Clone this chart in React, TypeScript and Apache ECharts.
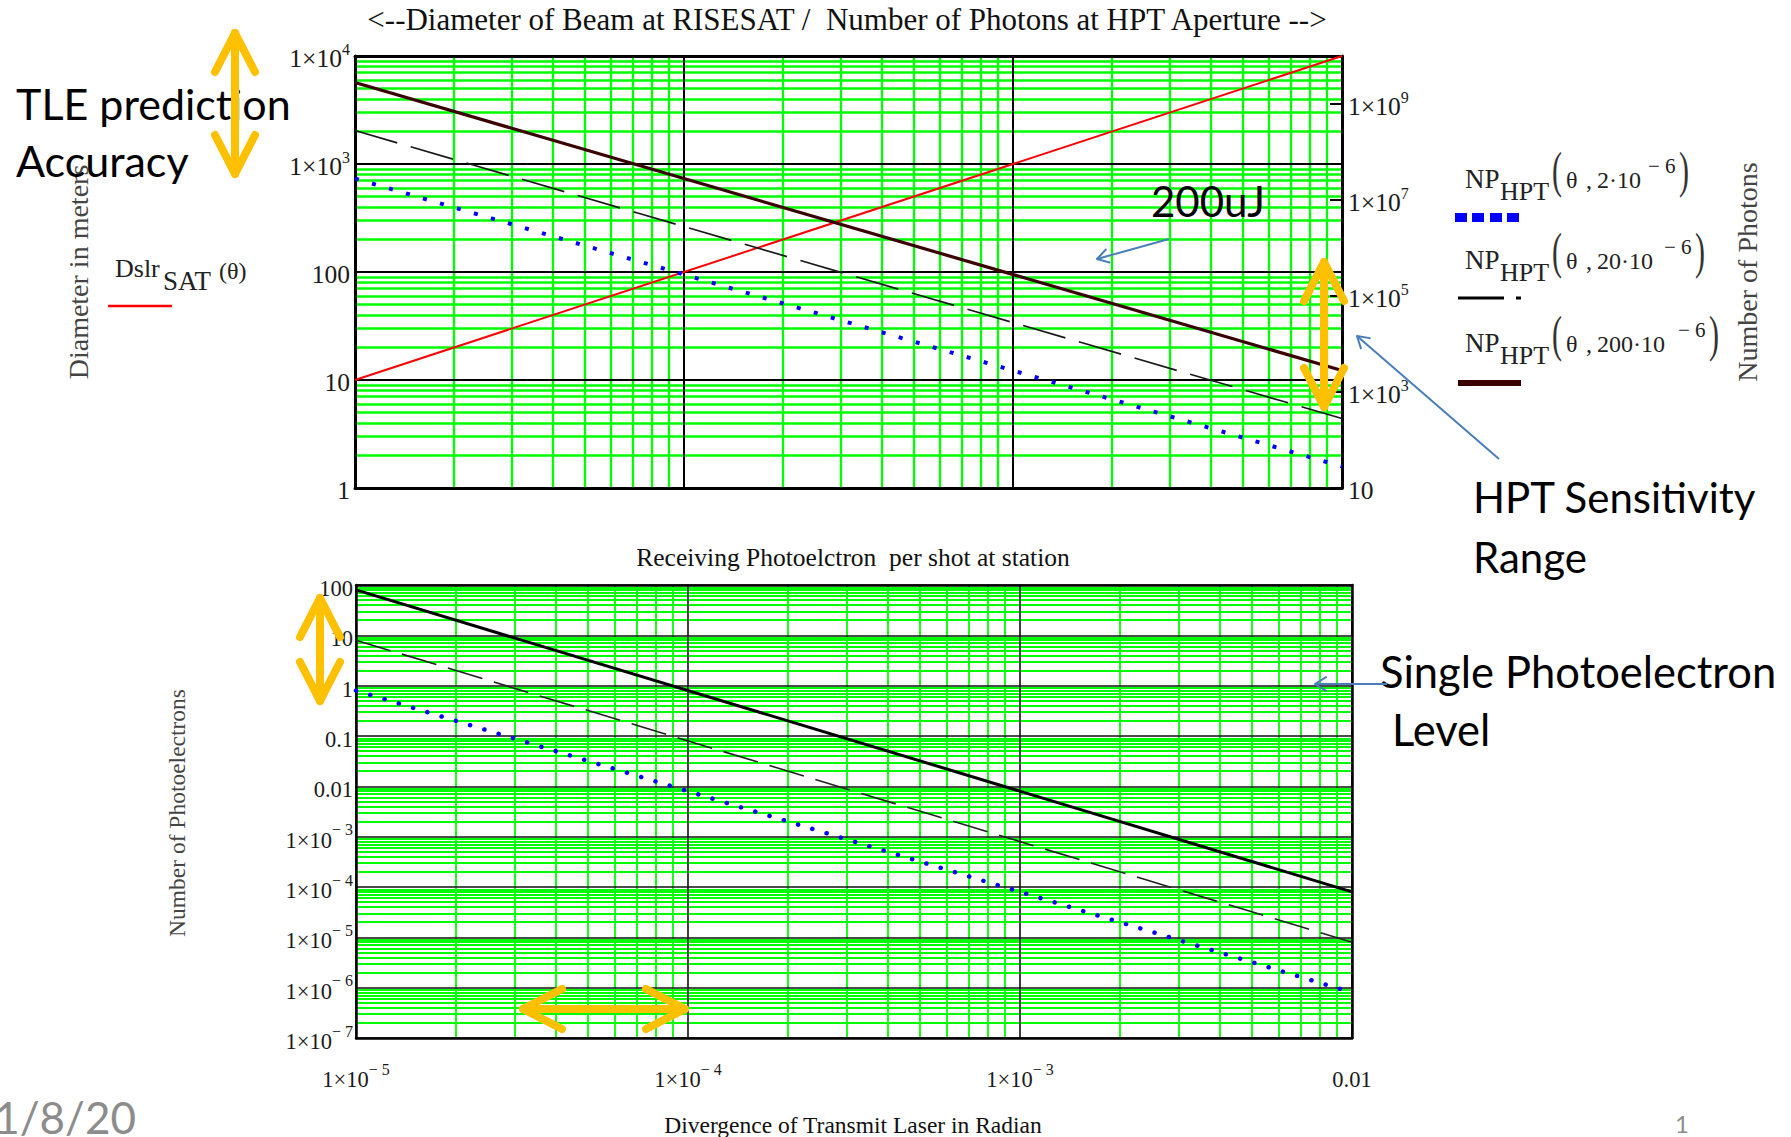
import React, { useEffect, useRef } from 'react';
import * as echarts from 'echarts';

// ---------------- data ----------------
// divergence of transmit laser (rad) at the two ends of the straight log-log lines
const thetaEnds = [1e-5, 1e-2];
// top chart: beam diameter at RISESAT (left axis, m)
const beamDiameterSat = [10, 10000];
// top chart: number of photons at HPT aperture (right axis)
const photonsHpt2uJ = [2.8e7, 28];
const photonsHpt20uJ = [2.8e8, 280];
const photonsHpt200uJ = [2.8e9, 2800];
// bottom chart: receiving photoelectrons per shot at station
const photoelectrons2uJ = [0.8, 8e-7];
const photoelectrons20uJ = [8, 8e-6];
const photoelectrons200uJ = [80, 8e-5];

// ---------------- axis / grid definitions ----------------
const minorMantissas = [2, 3, 4, 5, 6, 7, 8, 9];
const thetaDecades = [-5, -4, -3];
const diameterDecades = [0, 1, 2, 3];
const photoelectronDecades = [-7, -6, -5, -4, -3, -2, -1, 0, 1];
const photonLabelValues = [10, 1e3, 1e5, 1e7, 1e9];
const photonTickValues = [1e3, 1e5, 1e7, 1e9];

const SERIF = '"Liberation Serif", "Times New Roman", serif';
const SANS = 'Lato, "Open Sans", "Noto Sans", sans-serif';
const LABEL = '#1a1a1a';
const GREEN = '#00ff00';
const ORANGE = '#FFC000';
const BLUE_ARROW = '#4a7ebb';

const pairs = (ys: number[]) => thetaEnds.map((t, i) => [t, ys[i]]);
const minorValues = (decs: number[]) =>
  decs.flatMap((e) => minorMantissas.map((m) => m * Math.pow(10, e)));

const sciLabel = (v: number) => {
  const e = Math.round(Math.log10(v));
  if (e >= -2 && e <= 2) {
    const s = e >= 0 ? String(Math.round(Math.pow(10, e))) : '0.' + '0'.repeat(-e - 1) + '1';
    return `{m|${s}}`;
  }
  return `{m|1×10}{s|${e < 0 ? '− ' : ''}${Math.abs(e)}}`;
};

const richLabels = (fs: number, sfs: number) => ({
  m: { fontFamily: SERIF, fontSize: fs, lineHeight: 30, verticalAlign: 'bottom', color: LABEL },
  s: { fontFamily: SERIF, fontSize: sfs, lineHeight: 12, verticalAlign: 'top', color: LABEL },
});

// ---------------- graphic helpers (annotations) ----------------
const txt = (
  text: string,
  x: number,
  baseline: number,
  fs: number,
  family: string,
  fill: string,
  align: string = 'left',
  extra: any = {}
) => ({
  type: 'text',
  x,
  y: baseline - 0.35 * fs,
  z: 100,
  silent: true,
  ...extra,
  style: { text, fontSize: fs, fontFamily: family, fill, textAlign: align, textVerticalAlign: 'middle' },
});

const rotTxt = (text: string, x: number, y: number, fs: number, fill: string) => ({
  type: 'text',
  x,
  y,
  rotation: Math.PI / 2,
  z: 100,
  silent: true,
  style: { text, fontSize: fs, fontFamily: SERIF, fill, textAlign: 'center', textVerticalAlign: 'middle' },
});

const seg = (x1: number, y1: number, x2: number, y2: number, stroke: string, lw: number, cap = 'round') => ({
  type: 'line',
  z: 100,
  silent: true,
  shape: { x1, y1, x2, y2 },
  style: { stroke, lineWidth: lw, lineCap: cap },
});

const chevron = (pts: number[][], stroke: string, lw: number) => ({
  type: 'polyline',
  z: 100,
  silent: true,
  shape: { points: pts },
  style: { stroke, lineWidth: lw, lineCap: 'round', lineJoin: 'round', fill: 'none' },
});

const orangeV = (x: number, y1: number, y2: number) => [
  seg(x, y1 + 3, x, y2 - 3, ORANGE, 8),
  chevron([[x - 20, y1 + 42], [x, y1 + 3], [x + 20, y1 + 42]], ORANGE, 8),
  chevron([[x - 20, y2 - 42], [x, y2 - 3], [x + 20, y2 - 42]], ORANGE, 8),
];
const orangeH = (y: number, x1: number, x2: number) => [
  seg(x1 + 3, y, x2 - 3, y, ORANGE, 8),
  chevron([[x1 + 42, y - 20], [x1 + 3, y], [x1 + 42, y + 20]], ORANGE, 8),
  chevron([[x2 - 42, y - 20], [x2 - 3, y], [x2 - 42, y + 20]], ORANGE, 8),
];
const blueArrow = (x1: number, y1: number, x2: number, y2: number) => {
  const a = Math.atan2(y2 - y1, x2 - x1);
  const L = 13;
  const p1 = [x2 - L * Math.cos(a - 0.55), y2 - L * Math.sin(a - 0.55)];
  const p2 = [x2 - L * Math.cos(a + 0.55), y2 - L * Math.sin(a + 0.55)];
  return [seg(x1, y1, x2, y2, BLUE_ARROW, 2, 'butt'), chevron([p1, [x2, y2], p2], BLUE_ARROW, 2)];
};

// legend entry NP_HPT(θ, k·10^-6)
const npLegend = (b: number, num: string, numEnd: number) => [
  txt('NP', 1465, b, 27, SERIF, '#222'),
  txt('HPT', 1500, b + 13, 26, SERIF, '#222'),
  txt('(', 1552, b, 50, SERIF, '#333', 'left', { scaleX: 0.6 }),
  txt('θ', 1566, b, 24, SERIF, '#222'),
  txt(',', 1586, b, 24, SERIF, '#222'),
  txt(num, 1597, b, 24, SERIF, '#222'),
  txt('− 6', numEnd + 1, b - 15, 21, SERIF, '#222'),
  txt(')', numEnd + 32, b, 50, SERIF, '#333', 'left', { scaleX: 0.6 }),
];

const graphics: any[] = [
  // Mathcad titles
  txt('<--Diameter of Beam at RISESAT /  Number of Photons at HPT Aperture -->', 847, 30, 31, SERIF, '#111', 'center'),
  txt('Receiving Photoelctron  per shot at station', 853, 566, 25.5, SERIF, '#111', 'center'),
  txt('Divergence of Transmit Laser in Radian', 853, 1133, 23.5, SERIF, '#111', 'center'),
  rotTxt('Diameter in meters', 78, 272, 28, '#444'),
  rotTxt('Number of Photons', 1747, 272, 28, '#444'),
  rotTxt('Number of Photoelectrons', 177, 813, 23.5, '#444'),
  // left legend
  txt('Dslr', 115, 278, 26, SERIF, '#222'),
  txt('SAT', 163, 290, 27, SERIF, '#222'),
  txt('(θ)', 219, 279, 24, SERIF, '#222'),
  seg(108, 306, 172, 306, '#ff0000', 2.5, 'butt'),
  // right legend
  ...npLegend(188, '2·10', 1647),
  { type: 'rect', z: 100, silent: true, shape: { x: 1455, y: 213, width: 12, height: 9 }, style: { fill: '#0000ff' } },
  { type: 'rect', z: 100, silent: true, shape: { x: 1472, y: 213, width: 12, height: 9 }, style: { fill: '#0000ff' } },
  { type: 'rect', z: 100, silent: true, shape: { x: 1490, y: 213, width: 12, height: 9 }, style: { fill: '#0000ff' } },
  { type: 'rect', z: 100, silent: true, shape: { x: 1507, y: 213, width: 12, height: 9 }, style: { fill: '#0000ff' } },
  ...npLegend(269, '20·10', 1663),
  seg(1458, 298, 1504, 298, '#000', 3, 'butt'),
  seg(1516, 298, 1521, 298, '#000', 3, 'butt'),
  ...npLegend(352, '200·10', 1677),
  seg(1458, 383, 1521, 383, '#3a0000', 6, 'butt'),
  // PowerPoint annotations
  txt('TLE prediction', 16, 119, 43, SANS, '#000'),
  txt('Accuracy', 16, 176, 43, SANS, '#000'),
  ...orangeV(235, 30, 177),
  txt('200uJ', 1151, 216, 42, SANS, '#000'),
  ...blueArrow(1169, 239, 1097, 259),
  ...orangeV(1324, 259, 410),
  ...blueArrow(1499, 459, 1357, 336),
  txt('HPT Sensitivity', 1473, 512, 42, SANS, '#000'),
  txt('Range', 1473, 572, 42, SANS, '#000'),
  txt('Single Photoelectron', 1380, 686, 43.5, SANS, '#000'),
  txt('Level', 1392, 744, 43.5, SANS, '#000'),
  ...blueArrow(1387, 684, 1315, 684),
  ...orangeV(320, 595, 704),
  ...orangeH(1009, 520, 688),
  txt('11/8/20', 136, 1132, 44, SANS, '#8c8c8c', 'right'),
  txt('1', 1682, 1132, 24, SANS, '#8c8c8c', 'center'),
];

const axisLine = (w: number) => ({ show: true, onZero: false, lineStyle: { color: '#000', width: w } });

const minorGrid = (xVals: number[], yVals: number[], wx: number, wy: number) => ({
  silent: true,
  z: 1,
  animation: false,
  precision: 12,
  symbol: ['none', 'none'],
  label: { show: false },
  emphasis: { disabled: true },
  lineStyle: { color: GREEN, width: wx, type: 'solid' },
  data: [
    ...xVals.map((v) => ({ xAxis: v })),
    ...yVals.map((v) => ({ yAxis: v, lineStyle: { color: GREEN, width: wy, type: 'solid' } })),
  ],
});

const option: any = {
  animation: false,
  backgroundColor: '#ffffff',
  grid: [
    { left: 355, top: 56, width: 987, height: 432, outerBoundsMode: 'none', containLabel: false },
    { left: 356, top: 585, width: 996, height: 453, outerBoundsMode: 'none', containLabel: false },
  ],
  xAxis: [
    {
      gridIndex: 0, type: 'log', logBase: 10, min: 1e-5, max: 1e-2, position: 'bottom', z: 3,
      axisLine: axisLine(3), axisTick: { show: false }, axisLabel: { show: false },
      splitLine: { show: true, lineStyle: { color: '#000', width: 2 } },
    },
    {
      gridIndex: 0, type: 'log', logBase: 10, min: 1e-5, max: 1e-2, position: 'top', z: 3,
      axisLine: axisLine(3), axisTick: { show: false }, axisLabel: { show: false }, splitLine: { show: false },
    },
    {
      gridIndex: 1, type: 'log', logBase: 10, min: 1e-5, max: 1e-2, position: 'bottom', z: 3,
      axisLine: axisLine(2.5), axisTick: { show: false },
      axisLabel: {
        show: true, margin: 23, formatter: sciLabel, rich: richLabels(22.5, 16),
        showMinLabel: true, showMaxLabel: true,
      },
      splitLine: { show: true, lineStyle: { color: '#111', width: 1.6 } },
    },
    {
      gridIndex: 1, type: 'log', logBase: 10, min: 1e-5, max: 1e-2, position: 'top', z: 3,
      axisLine: axisLine(2.5), axisTick: { show: false }, axisLabel: { show: false }, splitLine: { show: false },
    },
  ],
  yAxis: [
    {
      gridIndex: 0, type: 'log', logBase: 10, min: 1, max: 1e4, position: 'left', z: 3,
      axisLine: axisLine(3), axisTick: { show: false },
      axisLabel: {
        show: true, margin: 5, formatter: sciLabel, rich: richLabels(25.5, 16),
        showMinLabel: true, showMaxLabel: true,
      },
      splitLine: { show: true, lineStyle: { color: '#000', width: 2 } },
    },
    {
      gridIndex: 0, type: 'log', logBase: 10, min: 10, max: 1e10, position: 'right', z: 3,
      axisLine: axisLine(3),
      axisTick: {
        show: true, inside: true, length: 12, customValues: photonTickValues,
        lineStyle: { color: '#000', width: 2 },
      },
      axisLabel: {
        show: true, margin: 6, formatter: sciLabel, rich: richLabels(25.5, 16),
        customValues: photonLabelValues, showMinLabel: true, showMaxLabel: true,
      },
      splitLine: { show: false },
    },
    {
      gridIndex: 1, type: 'log', logBase: 10, min: 1e-7, max: 100, position: 'left', z: 3,
      axisLine: axisLine(2.5), axisTick: { show: false },
      axisLabel: {
        show: true, margin: 3, formatter: sciLabel, rich: richLabels(22.5, 16),
        showMinLabel: true, showMaxLabel: true,
      },
      splitLine: { show: true, lineStyle: { color: '#111', width: 1.6 } },
    },
    {
      gridIndex: 1, type: 'log', logBase: 10, min: 1e-7, max: 100, position: 'right', z: 3,
      axisLine: axisLine(2.5), axisTick: { show: false }, axisLabel: { show: false }, splitLine: { show: false },
    },
  ],
  series: [
    // green minor grid, top chart
    {
      type: 'line', xAxisIndex: 0, yAxisIndex: 0, data: [], z: 1, silent: true,
      markLine: minorGrid(minorValues(thetaDecades), minorValues(diameterDecades), 2.3, 2.6),
    },
    // green minor grid, bottom chart
    {
      type: 'line', xAxisIndex: 2, yAxisIndex: 2, data: [], z: 1, silent: true,
      markLine: minorGrid(minorValues(thetaDecades), minorValues(photoelectronDecades), 1.8, 1.8),
    },
    // top chart data
    {
      name: 'Dslr_SAT', type: 'line', xAxisIndex: 0, yAxisIndex: 0, data: pairs(beamDiameterSat),
      symbol: 'none', z: 5, silent: true, lineStyle: { color: '#ff0000', width: 2 },
    },
    {
      name: 'NP_HPT 2uJ', type: 'line', xAxisIndex: 0, yAxisIndex: 1, data: pairs(photonsHpt2uJ),
      symbol: 'none', z: 5, silent: true, lineStyle: { color: '#0000ff', width: 4, type: [4, 13.7], cap: 'butt' },
    },
    {
      name: 'NP_HPT 20uJ', type: 'line', xAxisIndex: 0, yAxisIndex: 1, data: pairs(photonsHpt20uJ),
      symbol: 'none', z: 5, silent: true, lineStyle: { color: '#1a1a1a', width: 1.7, type: [44, 14] },
    },
    {
      name: 'NP_HPT 200uJ', type: 'line', xAxisIndex: 0, yAxisIndex: 1, data: pairs(photonsHpt200uJ),
      symbol: 'none', z: 5, silent: true, lineStyle: { color: '#3a0000', width: 3.2 },
    },
    // bottom chart data
    {
      name: 'PE 200uJ', type: 'line', xAxisIndex: 2, yAxisIndex: 2, data: pairs(photoelectrons200uJ),
      symbol: 'none', z: 5, silent: true, lineStyle: { color: '#000', width: 3 },
    },
    {
      name: 'PE 20uJ', type: 'line', xAxisIndex: 2, yAxisIndex: 2, data: pairs(photoelectrons20uJ),
      symbol: 'none', z: 5, silent: true, lineStyle: { color: '#222', width: 1.6, type: [36, 12] },
    },
    {
      name: 'PE 2uJ', type: 'line', xAxisIndex: 2, yAxisIndex: 2, data: pairs(photoelectrons2uJ),
      symbol: 'none', z: 5, silent: true, lineStyle: { color: '#0000ff', width: 4.5, type: [0.1, 14.8], cap: 'round' },
    },
  ],
  graphic: { elements: graphics },
};

export default function App() {
  const ref = useRef<HTMLDivElement>(null);
  useEffect(() => {
    document.body.style.margin = '0';
    document.body.style.overflow = 'hidden';
    const chart = echarts.init(ref.current as HTMLDivElement, null, { renderer: 'svg' });
    chart.setOption(option);
    return () => chart.dispose();
  }, []);
  return <div ref={ref} style={{ width: 1791, height: 1137 }} />;
}
